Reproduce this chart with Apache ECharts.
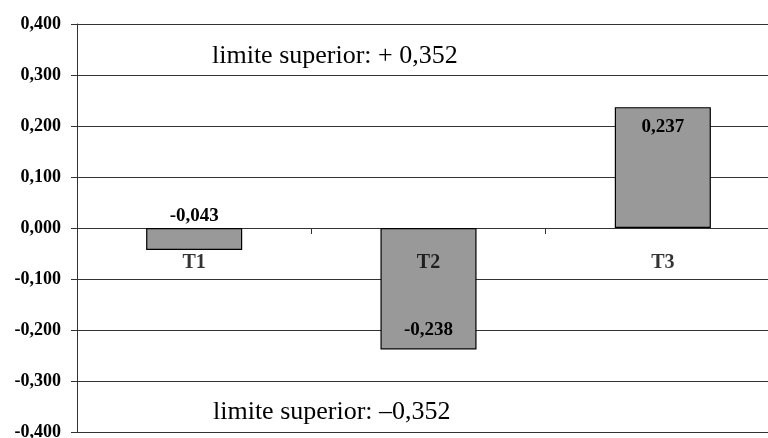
<!DOCTYPE html>
<html>
<head>
<meta charset="utf-8">
<script src="https://cdn.jsdelivr.net/npm/echarts@6/dist/echarts.min.js"></script>
<style>
html,body{margin:0;padding:0;background:#fff;}
#c{width:768px;height:438px;}
</style>
</head>
<body>
<div id="c"></div>
<script>
var categories = ['T1', 'T2', 'T3'];
var values = [-0.043, -0.238, 0.237];
var labelPositions = ['top', 'insideBottom', 'insideTop'];
var upperLimitText = 'limite superior: + 0,352';
var lowerLimitText = 'limite superior: \u20130,352';

function fmt(v) {
  var s = Math.abs(v) < 1e-9 ? '0.000' : v.toFixed(3);
  return s.replace('.', ',');
}

var font = '"Liberation Serif", "Times New Roman", serif';

var chart = echarts.init(document.getElementById('c'), null, {renderer: 'canvas'});
chart.setOption({
  animation: false,
  backgroundColor: '#ffffff',
  grid: {left: 77, top: 24, width: 703, height: 408, containLabel: false, outerBoundsMode: 'none'},
  xAxis: {
    type: 'category',
    data: categories,
    axisLine: {show: true, onZero: true, lineStyle: {color: '#333', width: 1}},
    axisTick: {show: true, alignWithLabel: false, length: 6, inside: false, lineStyle: {color: '#333'}},
    axisLabel: {show: false},
    splitLine: {show: false}
  },
  yAxis: {
    type: 'value',
    min: -0.4,
    max: 0.4,
    interval: 0.1,
    axisLine: {show: true, lineStyle: {color: '#333', width: 1}},
    axisTick: {show: true, length: 6, inside: false, lineStyle: {color: '#333'}},
    axisLabel: {margin: 16, color: '#000', fontFamily: font, fontWeight: 'bold', fontSize: 18, formatter: fmt},
    splitLine: {show: true, lineStyle: {color: '#333', width: 1}}
  },
  series: [{
    type: 'bar',
    barWidth: '41%',
    data: values.map(function (v, i) {
      return {
        value: v,
        label: {position: labelPositions[i], distance: labelPositions[i] === 'top' ? 2 : 10}
      };
    }),
    itemStyle: {color: '#999999', borderColor: '#000', borderWidth: 1.2},
    label: {
      show: true,
      color: '#000',
      fontFamily: font,
      fontWeight: 'bold',
      fontSize: 19,
      formatter: function (p) { return fmt(p.value); }
    }
  }, {
    type: 'scatter',
    symbolSize: 0,
    silent: true,
    z: 5,
    data: categories.map(function (c) { return [c, 0]; }),
    label: {
      show: true,
      position: 'bottom',
      distance: 25,
      color: '#000',
      fontFamily: font,
      fontWeight: 'bold',
      fontSize: 20,
      formatter: function (p) { return p.value[0]; }
    }
  }],
  graphic: [
    {type: 'text', left: 212, top: 43, style: {text: upperLimitText, font: '26px ' + font, fill: '#000'}},
    {type: 'text', left: 213, top: 399, style: {text: lowerLimitText, font: '26px ' + font, fill: '#000'}}
  ]
});
</script>
</body>
</html>
